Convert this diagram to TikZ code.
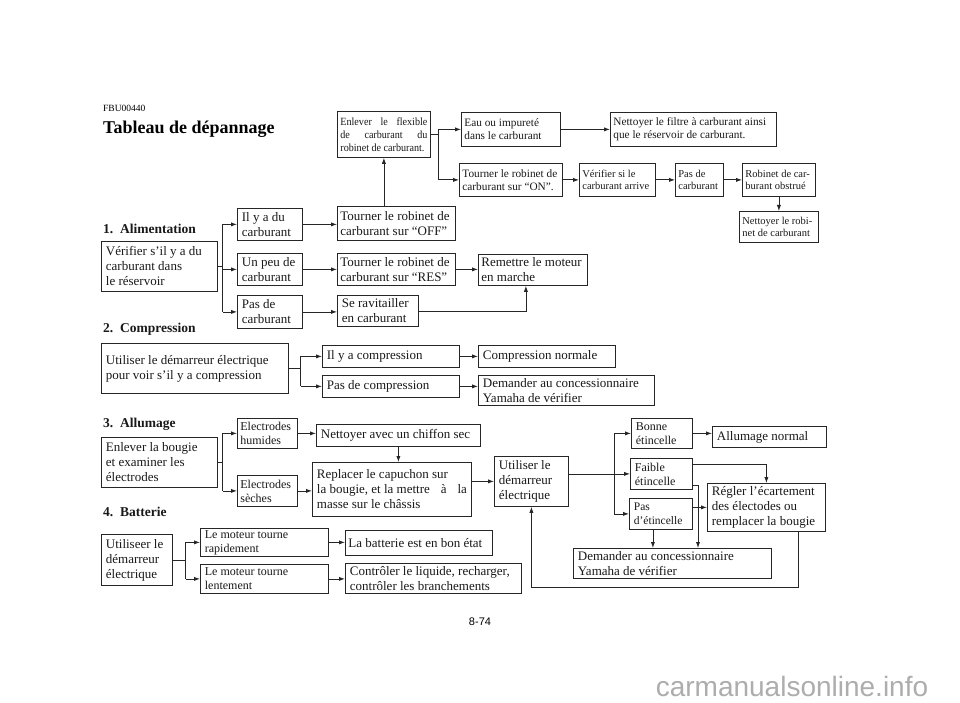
\documentclass[tikz,border=0pt]{standalone}
\usepackage{fontspec}
\setmainfont{Liberation Serif}
\newfontfamily\sansf{Liberation Sans}
\newfontfamily\condf[FakeStretch=0.92]{Liberation Serif}
\usetikzlibrary{arrows.meta,calc}
\newcommand\fm{\fontsize{13}{15}\selectfont}
\newcommand\fs{\fontsize{11.3}{13}\selectfont}
\newcommand\fss{\fontsize{10.5}{12.5}\selectfont}
\newcommand\fe{\fontsize{12}{14}\selectfont}
\newcommand\fl{\fontsize{11.5}{13.5}\selectfont}
\begin{document}
\begin{tikzpicture}[x=1pt,y=-1pt,
 box/.style={draw=black!85, line width=0.8pt, anchor=north west, inner xsep=4.5pt, inner ysep=1pt, align=flush left, font=\fm, text=black!90},
 tbox/.style={box, inner xsep=3pt},
 sbox/.style={box, inner xsep=3pt},
 arr/.style={-{Latex[length=6pt,width=4.2pt]}},
 ln/.style={draw=black!85, line width=0.8pt},
 hd/.style={anchor=west, font=\bfseries\fontsize{13.5}{16}\selectfont, inner sep=0pt, text=black!90}]

\path[fill=white, use as bounding box] (0,0) rectangle (960,703);

% header
\node[anchor=west, font=\fontsize{9.5}{11}\selectfont, inner sep=0pt] (code) at (103,108) {FBU00440};
\node[anchor=west, font=\bfseries\fontsize{18}{20}\selectfont, inner sep=0pt] (title) at (103,129) {Tableau de dépannage};

% ---------- 1. Alimentation
\node[hd] (s1) at (103,229) {1.\ \ Alimentation};
\node[box, text width=107, minimum height=50] (A1) at (101,241) {Vérifier s’il y a du\\carburant dans\\le réservoir};
\node[box, text width=56, minimum height=32] (Ilya) at (237,208) {Il y a du\\carburant};
\node[box, text width=56, minimum height=32] (Unpeu) at (237,253) {Un peu de\\carburant};
\node[box, text width=56, minimum height=33] (Pasde) at (237,295) {Pas de\\carburant};
\node[tbox, text width=112, minimum height=34] (OFF) at (337,206) {Tourner le robinet de\\carburant sur “OFF”};
\node[tbox, text width=112, minimum height=32] (RES) at (337,253) {Tourner le robinet de\\carburant sur “RES”};
\node[box, text width=72, minimum height=31] (Rav) at (337,295) {Se ravitailler\\en carburant};
\node[tbox, text width=103, minimum height=31] (Remettre) at (478,254) {Remettre le moteur\\en marche};
\node[sbox, font=\condf\fontsize{11}{13}\selectfont, text width=87, minimum height=46] (Enlever) at (337,111) {Enlever\hfill le\hfill flexible\\de\hfill carburant\hfill du\\robinet de carburant.};
\node[sbox, font=\fs, text width=93, minimum height=34] (Eau) at (461,112) {Eau ou impureté\\dans le carburant};
\node[sbox, font=\fs, text width=160, minimum height=34] (Filtre) at (610,112) {Nettoyer le filtre à carburant ainsi\\que le réservoir de carburant.};
\node[sbox, font=\fs, text width=97, minimum height=33] (ON) at (459,163) {Tourner le robinet de\\carburant sur “ON”.};
\node[sbox, font=\fss, text width=70, minimum height=33] (Verif) at (579,163) {Vérifier si le\\carburant arrive};
\node[sbox, font=\fss, text width=42, minimum height=33] (Pasde2) at (675,163) {Pas de\\carburant};
\node[sbox, font=\fss, text width=67, minimum height=33] (Robinet) at (742,163) {Robinet de car-\\burant obstrué};
\node[sbox, font=\fss, text width=73, minimum height=31] (NettRob) at (739,211) {Nettoyer le robi-\\net de carburant};

\draw[ln] (A1.east) -- ++(5,0) coordinate (j1);
\draw[ln] (j1 |- Ilya.west) -- (j1 |- Pasde.west);
\draw[ln,arr] (j1 |- Ilya.west) -- (Ilya.west);
\draw[ln,arr] (j1 |- Unpeu.west) -- (Unpeu.west);
\draw[ln,arr] (j1 |- Pasde.west) -- (Pasde.west);
\draw[ln,arr] (Ilya.east) -- (Ilya.east -| OFF.west);
\draw[ln,arr] (Unpeu.east) -- (Unpeu.east -| RES.west);
\draw[ln,arr] (Pasde.east) -- (Pasde.east -| Rav.west);
\draw[ln,arr] (RES.east) -- (RES.east -| Remettre.west);
\draw[ln,arr] (Rav.east) -| ($(Remettre.south)+(-7,0)$);
\draw[ln,arr] (Enlever.south |- OFF.north) -- (Enlever.south);
\draw[ln] (Enlever.east) -- ++(8,0) coordinate (j0);
\draw[ln] (j0 |- Eau.west) -- (j0 |- ON.west);
\draw[ln,arr] (j0 |- Eau.west) -- (Eau.west);
\draw[ln,arr] (j0 |- ON.west) -- (ON.west);
\draw[ln,arr] (Eau.east) -- (Eau.east -| Filtre.west);
\draw[ln,arr] (ON.east) -- (ON.east -| Verif.west);
\draw[ln,arr] (Verif.east) -- (Verif.east -| Pasde2.west);
\draw[ln,arr] (Pasde2.east) -- (Pasde2.east -| Robinet.west);
\draw[ln,arr] (Robinet.south) -- (Robinet.south |- NettRob.north);

% ---------- 2. Compression
\node[hd] (s2) at (103,329) {2.\ \ Compression};
\node[box, text width=178, minimum height=50] (C1) at (101,343) {Utiliser le démarreur électrique\\pour voir s’il y a compression};
\node[box, text width=128, minimum height=22] (IlyaC) at (322,345) {Il y a compression};
\node[box, text width=128, minimum height=22] (PasC) at (322,375) {Pas de compression};
\node[box, text width=128, minimum height=22] (CompN) at (478,345) {Compression normale};
\node[box, text width=167, minimum height=30] (DemC) at (478,375) {Demander au concessionnaire\\Yamaha de vérifier};
\draw[ln] (C1.east) -- ++(12,0) coordinate (j2);
\draw[ln] (j2 |- IlyaC.west) -- (j2 |- PasC.west);
\draw[ln,arr] (j2 |- IlyaC.west) -- (IlyaC.west);
\draw[ln,arr] (j2 |- PasC.west) -- (PasC.west);
\draw[ln,arr] (IlyaC.east) -- (IlyaC.east -| CompN.west);
\draw[ln,arr] (PasC.east) -- (PasC.east -| DemC.west);

% ---------- 3. Allumage
\node[hd] (s3) at (103,424) {3.\ \ Allumage};
\node[box, text width=107, minimum height=50] (E1) at (101,437) {Enlever la bougie\\et examiner les\\électrodes};
\node[tbox, font=\fe, text width=54, minimum height=30] (EH) at (237,418) {Electrodes\\humides};
\node[tbox, font=\fe, text width=54, minimum height=31] (ES) at (237,475) {Electrodes\\sèches};
\node[box, text width=155, minimum height=22] (Nett) at (316,424) {Nettoyer avec un chiffon sec};
\node[box, text width=150, minimum height=54] (Repl) at (312,462) {Replacer le capuchon sur\\la bougie, et la mettre\hfill à\hfill la\\masse sur le châssis};
\node[box, text width=65, minimum height=50] (Util) at (494,456) {Utiliser le\\démarreur\\électrique};
\node[box, font=\fe, text width=52, minimum height=30] (Bonne) at (631,418) {Bonne\\étincelle};
\node[box, text width=105, minimum height=21] (AllN) at (712,426) {Allumage normal};
\node[box, font=\fe, text width=53, minimum height=31] (Faible) at (630,458) {Faible\\étincelle};
\node[box, font=\fl, text width=54, minimum height=31] (Pasd) at (629,498) {Pas\\d’étincelle};
\node[box, text width=109, minimum height=48] (Regl) at (707,483) {Régler l’écartement\\des électodes ou\\remplacer la bougie};
\node[box, text width=189, minimum height=30] (Dem3) at (573,548) {Demander au concessionnaire\\Yamaha de vérifier};

\draw[ln] (E1.east) -- ++(5,0) coordinate (j3);
\draw[ln] (j3 |- EH.west) -- (j3 |- ES.west);
\draw[ln,arr] (j3 |- EH.west) -- (EH.west);
\draw[ln,arr] (j3 |- ES.west) -- (ES.west);
\draw[ln,arr] (EH.east) -- (EH.east -| Nett.west);
\draw[ln,arr] (ES.east) -- (ES.east -| Repl.west);
\draw[ln,arr] (Nett.south) -- (Nett.south |- Repl.north);
\draw[ln,arr] (Util.west -| Repl.east) -- (Util.west);
\coordinate (j4) at ($(Faible.west)+(-16,0)$);
\draw[ln,arr] (Util.east |- Faible.west) -- (Faible.west);
\draw[ln] (j4 |- Bonne.west) -- (j4 |- Pasd.west);
\draw[ln,arr] (j4 |- Bonne.west) -- (Bonne.west);
\draw[ln,arr] (j4 |- Pasd.west) -- (Pasd.west);
\draw[ln,arr] (Bonne.east) -- (Bonne.east -| AllN.west);
\draw[ln,arr] ($(Faible.north east)+(0,6)$) -| (Regl.north);
\draw[ln,arr] ($(Faible.south east)+(0,-4)$) -| ($(Dem3.north west)+(125,0)$);
\draw[ln,arr] (Regl.west -| Pasd.east) -- (Regl.west);
\coordinate (pd) at ($(Pasd.south)+(-8,0)$);
\draw[ln,arr] (pd) -- (pd |- Dem3.north);
\draw[ln,arr] ($(Regl.south east)+(-27,0)$) -- ++(0,56) -| (Util.south);

% ---------- 4. Batterie
\node[hd] (s4) at (103,512) {4.\ \ Batterie};
\node[box, text width=62, minimum height=51] (U4) at (101,534) {Utiliseer le\\démarreur\\électrique};
\node[box, font=\fe, text width=119, minimum height=28] (Rap) at (200,528) {Le moteur tourne\\rapidement};
\node[box, font=\fe, text width=119, minimum height=29] (Lent) at (200,564) {Le moteur tourne\\lentement};
\node[tbox, text width=141, minimum height=25] (Bon) at (345,530) {La batterie est en bon état};
\node[box, text width=167, minimum height=30] (Ctrl) at (345,563) {Contrôler le liquide, recharger,\\contrôler les branchements};
\draw[ln] (U4.east) -- ++(13,0) coordinate (j5);
\draw[ln] (j5 |- Rap.west) -- (j5 |- Lent.west);
\draw[ln,arr] (j5 |- Rap.west) -- (Rap.west);
\draw[ln,arr] (j5 |- Lent.west) -- (Lent.west);
\draw[ln,arr] (Rap.east) -- (Rap.east -| Bon.west);
\draw[ln,arr] (Lent.east) -- (Lent.east -| Ctrl.west);

% footer
\node[font=\sansf\fontsize{11}{13}\selectfont] (page) at (480,622) {8-74};
\node[font=\sansf\fontsize{28}{30}\selectfont, text=black!32] (wm) at (792,686) {carmanualsonline.info};
\end{tikzpicture}
\end{document}
